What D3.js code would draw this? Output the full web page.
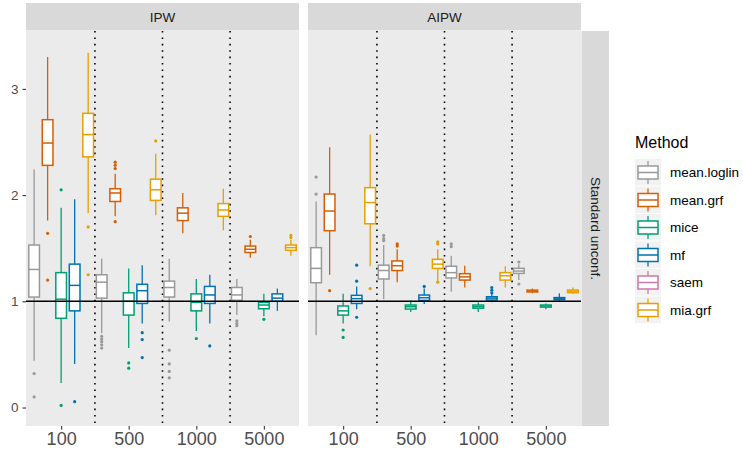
<!DOCTYPE html>
<html>
<head>
<meta charset="utf-8">
<script src="https://cdn.jsdelivr.net/npm/d3@7"></script>
<style>
  html, body { margin: 0; padding: 0; background: #ffffff; }
  svg { display: block; font-family: "Liberation Sans", Arial, Helvetica, sans-serif; }
</style>
</head>
<body>
<svg id="chart" width="743" height="455"></svg>
<script>
// ---------------- DATA ----------------
const estimators = ["IPW", "AIPW"];
const sizes = ["100", "500", "1000", "5000"];
const methods = ["mean.loglin", "mean.grf", "mice", "mf", "saem", "mia.grf"];
const methodColors = ["#999999", "#D55E00", "#009E73", "#0072B2", "#CC79A7", "#E69F00"];
const plottedMethods = ["mean.loglin", "mean.grf", "mice", "mf", "mia.grf"];
const yTicks = [0, 1, 2, 3];
const facetRowLabel = "Standard unconf.";
const legendTitle = "Method";

// box stats per size: [whisker low, q1, median, q3, whisker high]
const ipwMeanLoglin = [[0.44, 1.04, 1.30, 1.53, 2.24], [0.70, 1.03, 1.18, 1.25, 1.40], [0.81, 1.04, 1.13, 1.19, 1.40], [0.87, 1.01, 1.06, 1.13, 1.21]];
const ipwMeanGrf    = [[1.76, 2.28, 2.49, 2.71, 3.30], [1.80, 1.94, 2.02, 2.06, 2.20], [1.64, 1.76, 1.83, 1.88, 2.02], [1.41, 1.46, 1.49, 1.52, 1.58]];
const ipwMice       = [[0.23, 0.84, 1.02, 1.27, 1.88], [0.56, 0.87, 1.00, 1.08, 1.31], [0.72, 0.91, 0.99, 1.07, 1.21], [0.86, 0.93, 0.965, 0.99, 1.07]];
const ipwMf         = [[0.41, 0.91, 1.15, 1.35, 1.96], [0.79, 0.98, 1.10, 1.16, 1.34], [0.79, 0.98, 1.06, 1.14, 1.25], [0.91, 1.00, 1.03, 1.07, 1.12]];
const ipwMiaGrf     = [[1.83, 2.36, 2.57, 2.77, 3.34], [1.81, 1.95, 2.05, 2.15, 2.39], [1.67, 1.80, 1.86, 1.92, 2.06], [1.43, 1.48, 1.505, 1.53, 1.58]];

const aipwMeanLoglin = [[0.68, 1.175, 1.31, 1.505, 1.94], [1.02, 1.21, 1.29, 1.34, 1.53], [1.09, 1.22, 1.27, 1.33, 1.43], [1.20, 1.263, 1.285, 1.31, 1.35]];
const aipwMeanGrf    = [[1.25, 1.665, 1.85, 2.01, 2.45], [1.18, 1.29, 1.335, 1.38, 1.49], [1.13, 1.20, 1.23, 1.26, 1.335], [1.075, 1.088, 1.097, 1.105, 1.12]];
const aipwMice       = [[0.79, 0.87, 0.91, 0.956, 1.07], [0.90, 0.927, 0.949, 0.965, 1.01], [0.90, 0.935, 0.949, 0.965, 0.99], [0.925, 0.945, 0.956, 0.965, 0.98]];
const aipwMf         = [[0.925, 0.98, 1.025, 1.056, 1.14], [0.975, 1.009, 1.034, 1.059, 1.12], [0.99, 1.012, 1.03, 1.043, 1.07], [1.00, 1.015, 1.028, 1.035, 1.075]];
const aipwMiaGrf     = [[1.33, 1.73, 1.93, 2.07, 2.57], [1.19, 1.31, 1.35, 1.395, 1.49], [1.13, 1.20, 1.24, 1.27, 1.33], [1.07, 1.081, 1.096, 1.106, 1.13]];

// outliers per size
const ipwOutMeanLoglin = [[0.32, 0.10], [0.67, 0.645, 0.62, 0.59, 0.56], [0.54, 0.41, 0.34, 0.28], [0.815, 0.79, 0.77]];
const ipwOutMeanGrf    = [[1.64, 1.20], [2.31, 2.28, 2.25, 1.75], [], [1.61]];
const ipwOutMice       = [[2.05, 0.02], [0.42, 0.37], [0.65], [0.83]];
const ipwOutMf         = [[0.055], [0.705, 0.64, 0.47], [0.58], []];
const ipwOutMiaGrf     = [[1.70, 1.25], [2.51], [], [1.62, 1.60]];

const aipwOutMeanLoglin = [[2.17, 2.01], [1.62, 1.59, 1.57], [1.54, 1.515], [1.37, 1.163]];
const aipwOutMeanGrf    = [[1.10], [1.54, 1.52], [], []];
const aipwOutMice       = [[0.73, 0.66], [], [], []];
const aipwOutMf         = [[1.34, 1.19, 0.85], [1.14], [1.13, 1.105, 1.08], []];
const aipwOutMiaGrf     = [[1.12], [1.56, 1.54, 1.18], [], []];

const statsByEstimator = {
  IPW:  [ipwMeanLoglin, ipwMeanGrf, ipwMice, ipwMf, ipwMiaGrf],
  AIPW: [aipwMeanLoglin, aipwMeanGrf, aipwMice, aipwMf, aipwMiaGrf]
};
const outliersByEstimator = {
  IPW:  [ipwOutMeanLoglin, ipwOutMeanGrf, ipwOutMice, ipwOutMf, ipwOutMiaGrf],
  AIPW: [aipwOutMeanLoglin, aipwOutMeanGrf, aipwOutMice, aipwOutMf, aipwOutMiaGrf]
};

// ---------------- LAYOUT ----------------
const svg = d3.select("#chart");
const panelTop = 31, panelBottom = 426;
const panels = [{x0: 26, x1: 299}, {x0: 308, x1: 581}];
const stripTop = 3;
const colorOf = d3.scaleOrdinal(methods, methodColors);

const y = d3.scaleLinear().domain([-0.174, 3.545]).range([panelBottom, panelTop]);

estimators.forEach((est, pi) => {
  const p = panels[pi];
  const x = d3.scalePoint(sizes, [p.x0, p.x1]).padding(0.52);
  const step = x.step();
  const dodge = d3.scaleBand(plottedMethods, [-step / 2, step / 2]).padding(0);
  const boxW = dodge.bandwidth() * 0.79;

  const g = svg.append("g");
  // panel background
  g.append("rect").attr("x", p.x0).attr("y", panelTop).attr("width", p.x1 - p.x0).attr("height", panelBottom - panelTop).attr("fill", "#EBEBEB");
  // strip
  g.append("rect").attr("x", p.x0).attr("y", stripTop).attr("width", p.x1 - p.x0).attr("height", panelTop - stripTop - 0.5).attr("fill", "#D9D9D9");
  g.append("text").attr("x", (p.x0 + p.x1) / 2).attr("y", (stripTop + panelTop) / 2 + 0.5)
    .attr("text-anchor", "middle").attr("dominant-baseline", "central")
    .attr("font-size", 13.5).attr("fill", "#1A1A1A").text(est);

  // vertical dotted separators between sizes
  for (let i = 0; i < sizes.length - 1; i++) {
    const xm = (x(sizes[i]) + x(sizes[i + 1])) / 2;
    g.append("line").attr("x1", xm).attr("x2", xm).attr("y1", panelTop).attr("y2", panelBottom)
      .attr("stroke", "#000").attr("stroke-width", 1.6).attr("stroke-dasharray", "1.6,4.8");
  }

  // boxplots
  const stats = statsByEstimator[est];
  const outs = outliersByEstimator[est];
  plottedMethods.forEach((m, mi) => {
    const col = colorOf(m);
    sizes.forEach((s, si) => {
      const st = stats[mi][si];
      const cx = x(s) + dodge(m) + dodge.bandwidth() / 2;
      const bg = g.append("g");
      bg.append("line").attr("x1", cx).attr("x2", cx).attr("y1", y(st[3])).attr("y2", y(st[4]))
        .attr("stroke", col).attr("stroke-width", 1.3);
      bg.append("line").attr("x1", cx).attr("x2", cx).attr("y1", y(st[1])).attr("y2", y(st[0]))
        .attr("stroke", col).attr("stroke-width", 1.3);
      bg.append("rect").attr("x", cx - boxW / 2).attr("y", y(st[3])).attr("width", boxW)
        .attr("height", Math.max(0.5, y(st[1]) - y(st[3])))
        .attr("fill", "#FFFFFF").attr("stroke", col).attr("stroke-width", 1.5);
      bg.append("line").attr("x1", cx - boxW / 2).attr("x2", cx + boxW / 2).attr("y1", y(st[2])).attr("y2", y(st[2]))
        .attr("stroke", col).attr("stroke-width", 1.5);
      outs[mi][si].forEach(v => {
        bg.append("circle").attr("cx", cx).attr("cy", y(v)).attr("r", 1.6).attr("fill", col);
      });
    });
  });

  // reference line at 1
  g.append("line").attr("x1", p.x0).attr("x2", p.x1).attr("y1", y(1)).attr("y2", y(1))
    .attr("stroke", "#000").attr("stroke-width", 1.5);

  // x axis
  const xa = svg.append("g").attr("transform", `translate(0,${panelBottom})`)
    .call(d3.axisBottom(x).tickSize(3.5).tickPadding(3));
  xa.select(".domain").remove();
  xa.selectAll(".tick line").attr("stroke", "#333333").attr("stroke-width", 1.1);
  xa.selectAll(".tick text").attr("fill", "#4D4D4D").attr("font-size", 18)
    .attr("font-family", "Liberation Sans, Arial, sans-serif");

  // y axis only on the first panel
  if (pi === 0) {
    const ya = svg.append("g").attr("transform", `translate(${p.x0},0)`)
      .call(d3.axisLeft(y).tickValues(yTicks).tickFormat(d3.format("d")).tickSize(3.5).tickPadding(4));
    ya.select(".domain").remove();
    ya.selectAll(".tick line").attr("stroke", "#333333").attr("stroke-width", 1.1);
    ya.selectAll(".tick text").attr("fill", "#4D4D4D").attr("font-size", 13.5)
      .attr("font-family", "Liberation Sans, Arial, sans-serif");
  }
});

// right facet strip
const rsX = 581, rsW = 27.5;
svg.append("rect").attr("x", rsX + 0.5).attr("y", panelTop).attr("width", rsW).attr("height", panelBottom - panelTop).attr("fill", "#D9D9D9");
svg.append("text")
  .attr("transform", `translate(${rsX + 0.5 + rsW / 2},${(panelTop + panelBottom) / 2}) rotate(90)`)
  .attr("text-anchor", "middle").attr("dominant-baseline", "central")
  .attr("font-size", 13.5).attr("fill", "#1A1A1A").text(facetRowLabel);

// legend
const lg = svg.append("g");
const lgX = 635, lgY0 = 159, keyW = 26, keyH = 27.5;
lg.append("text").attr("x", lgX).attr("y", 148).attr("font-size", 16).attr("fill", "#000").text(legendTitle);
methods.forEach((m, i) => {
  const ky = lgY0 + i * keyH;
  const col = colorOf(m);
  lg.append("rect").attr("x", lgX).attr("y", ky).attr("width", keyW).attr("height", keyH - 1).attr("fill", "#F2F2F2");
  const cx = lgX + keyW / 2;
  lg.append("line").attr("x1", cx).attr("x2", cx).attr("y1", ky + 2).attr("y2", ky + 7).attr("stroke", col).attr("stroke-width", 1.3);
  lg.append("line").attr("x1", cx).attr("x2", cx).attr("y1", ky + 20).attr("y2", ky + 25).attr("stroke", col).attr("stroke-width", 1.3);
  lg.append("rect").attr("x", lgX + 3).attr("y", ky + 7).attr("width", keyW - 6).attr("height", 13)
    .attr("fill", "#FFFFFF").attr("stroke", col).attr("stroke-width", 1.5);
  lg.append("line").attr("x1", lgX + 3).attr("x2", lgX + keyW - 3).attr("y1", ky + 13.5).attr("y2", ky + 13.5)
    .attr("stroke", col).attr("stroke-width", 1.5);
  lg.append("text").attr("x", lgX + 35).attr("y", ky + 13.5).attr("dominant-baseline", "central")
    .attr("font-size", 13.5).attr("fill", "#000").text(m);
});
</script>
</body>
</html>
